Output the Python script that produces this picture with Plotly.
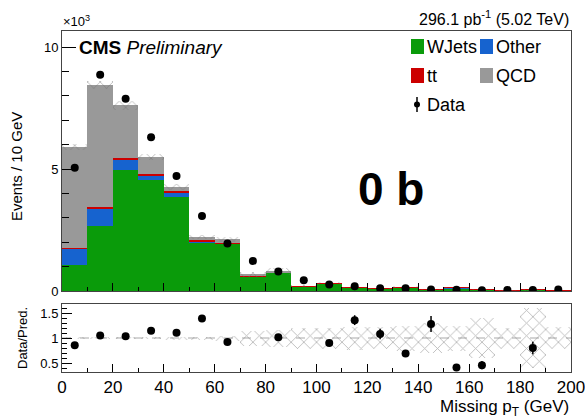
import numpy as np
import plotly.graph_objects as go

# ---------------- data (values in units of 10^3 events) ----------------
bin_low = list(range(0, 200, 10))
bin_centers = [b + 5 for b in bin_low]
wjets = [1.07, 2.66, 4.96, 4.55, 3.87, 1.98, 1.93, 0.60, 0.74, 0.19,
         0.29, 0.13, 0.09, 0.13, 0.045, 0.12, 0.06, 0.018, 0.045, 0.028]
other = [0.66, 0.72, 0.45, 0.18, 0.15, 0.05, 0.02, 0.01, 0.01, 0.005,
         0.005, 0.004, 0.004, 0.004, 0.002, 0.004, 0.004, 0.001, 0.002, 0.001]
ttbar = [0.05, 0.06, 0.05, 0.06, 0.06, 0.08, 0.03, 0.03, 0.02, 0.005,
         0.005, 0.006, 0.006, 0.026, 0.003, 0.006, 0.006, 0.001, 0.003, 0.001]
qcd = [4.12, 5.00, 2.16, 0.71, 0.19, 0.10, 0.14, 0.02, 0.02, 0.0,
       0.0, 0.0, 0.0, 0.0, 0.0, 0.0, 0.0, 0.0, 0.0, 0.0]
data = [5.05, 8.87, 7.88, 6.30, 4.71, 3.07, 1.95, 1.23, 0.80, 0.44,
        0.27, 0.19, 0.108, 0.11, 0.064, 0.053, 0.032, 0.04, 0.04, 0.06]
rel_unc = [0.02, 0.02, 0.025, 0.025, 0.03, 0.03, 0.05, 0.15, 0.17, 0.21,
           0.21, 0.23, 0.22, 0.25, 0.30, 0.25, 0.40, 0.21, 0.60, 0.22]
x_tick_vals = [0, 20, 40, 60, 80, 100, 120, 140, 160, 180, 200]
main_y_ticks = [0, 5, 10]
ratio_y_ticks = [0.5, 1, 1.5]

# ---------------- derived ----------------
wj = np.array(wjets); ot = np.array(other); tt = np.array(ttbar); qc = np.array(qcd)
dat = np.array(data); rel = np.array(rel_unc)
base_other = wj
base_tt = wj + ot
base_qcd = wj + ot + tt
total = wj + ot + tt + qc
data_err = np.sqrt(dat * 1000.0) / 1000.0
ratio = dat / total
ratio_err = data_err / total

W, H = 585, 420
def px(x):
    return x / W
def py(y):
    return 1 - y / H

FONT = "Liberation Sans, Arial, Helvetica, sans-serif"
GREEN, BLUE, RED, GRAY = "#0a9b0a", "#1663cf", "#cc0000", "#999999"

fig = go.Figure()

def stack_bar(vals, base, color, name):
    fig.add_trace(go.Bar(x=bin_centers, y=vals, base=base, width=10, name=name,
                         marker=dict(color=color, line=dict(width=0)),
                         xaxis="x", yaxis="y", showlegend=False))

stack_bar(wj, [0] * 20, GREEN, "WJets")
stack_bar(ot, base_other, BLUE, "Other")
stack_bar(tt, base_tt, RED, "tt")
stack_bar(qc, base_qcd, GRAY, "QCD")

hatch = dict(color="rgba(0,0,0,0)", line=dict(width=0),
             pattern=dict(shape="x", fgcolor="#6e6e6e", bgcolor="rgba(0,0,0,0)",
                          size=9, solidity=0.18, fillmode="overlay"))
fig.add_trace(go.Bar(x=bin_centers, y=2 * total * rel, base=total * (1 - rel), width=10,
                     marker=hatch, xaxis="x", yaxis="y", showlegend=False))

fig.add_trace(go.Scatter(x=bin_centers, y=dat, mode="markers",
                         marker=dict(color="black", size=8),
                         error_y=dict(type="data", array=data_err, color="black",
                                      thickness=1.5, width=0),
                         xaxis="x", yaxis="y", showlegend=False))

# ratio panel
fig.add_trace(go.Bar(x=bin_centers, y=2 * rel, base=1 - rel, width=10,
                     marker=hatch, xaxis="x2", yaxis="y2", showlegend=False))
fig.add_trace(go.Scatter(x=bin_centers, y=ratio, mode="markers",
                         marker=dict(color="black", size=8),
                         error_y=dict(type="data", array=ratio_err, color="black",
                                      thickness=1.5, width=0),
                         xaxis="x2", yaxis="y2", showlegend=False))

x_dom = [px(62), px(571)]
axis_common = dict(showgrid=False, zeroline=False, showline=True, mirror=True,
                   linecolor="#444", linewidth=1, ticks="inside", tickcolor="black",
                   automargin=False, ticklabeloverflow="allow")

fig.update_layout(
    width=W, height=H, margin=dict(l=0, r=0, t=0, b=0, autoexpand=False),
    paper_bgcolor="white", plot_bgcolor="white",
    barmode="overlay", bargap=0,
    font=dict(family=FONT, color="black"),
    xaxis=dict(domain=x_dom, anchor="y", range=[0, 200], tickvals=x_tick_vals,
               showticklabels=False, ticklen=8,
               minor=dict(ticks="inside", dtick=10, ticklen=4, tickcolor="black"),
               **axis_common),
    yaxis=dict(domain=[py(291), py(31)], anchor="x", range=[0, 10.66],
               tickvals=main_y_ticks, ticktext=["0", "5", "10"], ticklen=14,
               tickfont=dict(size=13),
               minor=dict(ticks="inside", dtick=1, ticklen=7, tickcolor="black"),
               **axis_common),
    xaxis2=dict(domain=x_dom, anchor="y2", range=[0, 200], tickvals=x_tick_vals,
                ticktext=[str(v) for v in x_tick_vals], ticklen=8,
                tickfont=dict(size=17),
                minor=dict(ticks="inside", dtick=10, ticklen=4, tickcolor="black"),
                **axis_common),
    yaxis2=dict(domain=[py(372), py(304)], anchor="x2", range=[0.32, 1.68],
                tickvals=ratio_y_ticks, ticktext=["0.5", "1", "1.5"], ticklen=10,
                tickfont=dict(size=13),
                minor=dict(ticks="inside", dtick=0.1, ticklen=5, tickcolor="black"),
                **axis_common),
)

fig.add_shape(type="line", xref="x2", yref="y2", x0=0, x1=200, y0=1, y1=1,
              line=dict(color="#aaaaaa", width=1.2, dash="dash"), layer="below")

ann = []
def text(x, y, s, size, xanchor="left", yanchor="middle", angle=0, **kw):
    ann.append(dict(x=px(x), y=py(y), xref="paper", yref="paper", text=s,
                    showarrow=False, xanchor=xanchor, yanchor=yanchor, textangle=angle,
                    font=dict(family=FONT, size=size, color=kw.get("color", "black"))))

text(61, 21, "×10<sup>3</sup>", 13)
text(571, 18, "296.1 pb<sup>-1</sup> (5.02 TeV)", 16, xanchor="right")
text(77, 47, "<b>CMS</b> <i>Preliminary</i>", 19)
text(391, 189, "<b>0 b</b>", 46, xanchor="center")
text(17, 167, "Events / 10 GeV", 15, xanchor="center", angle=-90)
text(22, 338, "Data/Pred.", 13, xanchor="center", angle=-90)
text(571, 408, "Missing p<sub>T</sub> (GeV)", 17, xanchor="right")

# legend (manual, two columns)
leg_items = [("WJets", GREEN, 411, 46.5), ("Other", BLUE, 480, 46.5),
             ("tt", RED, 411, 75.5), ("QCD", GRAY, 480, 75.5)]
for name, col, x0, yc in leg_items:
    fig.add_shape(type="rect", xref="paper", yref="paper",
                  x0=px(x0), x1=px(x0 + 13), y0=py(yc + 7.5), y1=py(yc - 7.5),
                  fillcolor=col, line=dict(width=0))
    text(x0 + 14, yc, name, 18)
fig.add_shape(type="line", xref="paper", yref="paper", x0=px(417), x1=px(417),
              y0=py(112), y1=py(97), line=dict(color="black", width=1.5))
fig.add_shape(type="circle", xref="paper", yref="paper", x0=px(414), x1=px(420),
              y0=py(107.5), y1=py(101.5), fillcolor="black", line=dict(width=0))
text(425, 104.5, "Data", 18)

fig.update_layout(annotations=ann)
fig.write_html("out.html", config={"displayModeBar": False},
               post_script="document.body.style.margin='0';document.body.style.overflow='hidden';")
